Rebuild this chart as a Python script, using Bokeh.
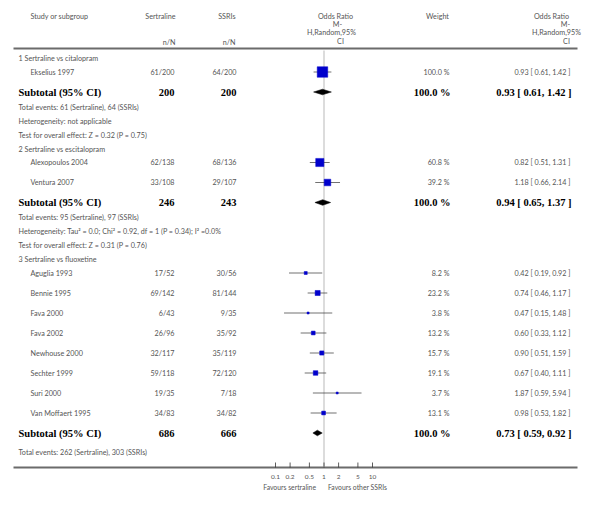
from bokeh.plotting import figure
from bokeh.models import Range1d, LogScale, ColumnDataSource
from bokeh.core.properties import value
from bokeh.embed import file_html
from bokeh.resources import INLINE

# ---------------- data ----------------
groups = ["1 Sertraline vs citalopram", "2 Sertraline vs escitalopram", "3 Sertraline vs fluoxetine"]
study_names = ["Ekselius 1997", "Alexopoulos 2004", "Ventura 2007", "Aguglia 1993", "Bennie 1995",
               "Fava 2000", "Fava 2002", "Newhouse 2000", "Sechter 1999", "Suri 2000", "Van Moffaert 1995"]
study_group = [0, 1, 1, 2, 2, 2, 2, 2, 2, 2, 2]
sert_nN = ["61/200", "62/138", "33/108", "17/52", "69/142", "6/43", "26/96", "32/117", "59/118", "19/35", "34/83"]
ssri_nN = ["64/200", "68/136", "29/107", "30/56", "81/144", "9/35", "35/92", "35/119", "72/120", "7/18", "34/82"]
weights = [100.0, 60.8, 39.2, 8.2, 23.2, 3.8, 13.2, 15.7, 19.1, 3.7, 13.1]
or_est = [0.93, 0.82, 1.18, 0.42, 0.74, 0.47, 0.60, 0.90, 0.67, 1.87, 0.98]
or_lo = [0.61, 0.51, 0.66, 0.19, 0.46, 0.15, 0.33, 0.51, 0.40, 0.59, 0.53]
or_hi = [1.42, 1.31, 2.14, 0.92, 1.17, 1.48, 1.12, 1.59, 1.11, 5.94, 1.82]

sub_n_sert = [200, 246, 686]
sub_n_ssri = [200, 243, 666]
sub_weight = [100.0, 100.0, 100.0]
sub_or = [0.93, 0.94, 0.73]
sub_lo = [0.61, 0.65, 0.59]
sub_hi = [1.42, 1.37, 0.92]
total_events = ["Total events: 61 (Sertraline), 64 (SSRIs)",
                "Total events: 95 (Sertraline), 97 (SSRIs)",
                "Total events: 262 (Sertraline), 303 (SSRIs)"]
heterogeneity = ["Heterogeneity: not applicable",
                 "Heterogeneity: Tau\u00b2 = 0.0; Chi\u00b2 = 0.92, df = 1 (P = 0.34); I\u00b2 =0.0%",
                 None]
overall_test = ["Test for overall effect: Z = 0.32 (P = 0.75)",
                "Test for overall effect: Z = 0.31 (P = 0.76)",
                None]
tick_values = [0.1, 0.2, 0.5, 1, 2, 5, 10]
tick_labels = ["0.1", "0.2", "0.5", "1", "2", "5", "10"]
favours_left = "Favours sertraline"
favours_right = "Favours other SSRIs"

# ---------------- figure ----------------
W, H = 585, 492
p = figure(width=W, height=H, output_backend="svg", toolbar_location=None,
           x_range=Range1d(0, W), y_range=Range1d(H, 0),
           x_axis_location=None, y_axis_location=None, min_border=0,
           outline_line_color=None)
p.grid.visible = False
p.background_fill_color = "white"

ONE_PX, DEC_PX = 323.5, 48.5
p.extra_x_ranges = {"or": Range1d(10 ** ((0 - ONE_PX) / DEC_PX), 10 ** ((W - ONE_PX) / DEC_PX))}
p.extra_x_scales = {"or": LogScale()}

REG_FONT = "Lato"
REG_SIZE = "7.2px"
REG_COL = "#555555"
BOLD_FONT = "Liberation Serif"
BOLD_SIZE = "10.5px"


def txt(x, y, s, align="left", bold=False, color=None, size=None, rng="default", xoff=0):
    p.text(x=[x], y=[y], text=[s], text_align=align, text_baseline="middle",
           text_font=value(BOLD_FONT if bold else REG_FONT),
           text_font_size=size or (BOLD_SIZE if bold else REG_SIZE),
           text_font_style="bold" if bold else "normal",
           text_color=color or ("black" if bold else REG_COL),
           x_range_name=rng, x_offset=xoff)


def fmt_ci(e, l, h):
    return f"{e:.2f} [ {l:.2f}, {h:.2f} ]"


# column anchors (screen px)
X_STUDY, X_GROUP, X_SERT, X_SSRI, X_W, X_CI = 30, 18, 174, 236, 449, 570

# header
txt(X_STUDY, 16, "Study or subgroup")
txt(X_SERT + 1, 16, "Sertraline", align="right")
txt(X_SSRI - 1, 16, "SSRIs", align="right")
txt(X_SERT + 1, 42, "n/N", align="right")
txt(X_SSRI - 1, 42, "n/N", align="right")
txt(437, 16, "Weight", align="center")
hdr_lines = ["Odds Ratio", "M-", "H,Random,95%", "CI"]
hdr_y = [16, 24, 32, 41]
for s, yy, xm, xr in zip(hdr_lines, hdr_y, [335, 337, 331, 340], [551, 565, 556, 566]):
    txt(xm, yy, s, align="center")
    txt(xr, yy, s, align="center")

p.segment(x0=[13], x1=[577], y0=[48], y1=[48], line_width=2, line_color="#6b6b6b")
p.segment(x0=[13], x1=[577], y0=[467], y1=[467], line_width=2, line_color="#6b6b6b")

# layout walk
rows_y_study = []
y = 58
sub_y = []
for g in range(3):
    txt(X_GROUP, y, groups[g])
    y += 13.5
    for i, sg in enumerate(study_group):
        if sg != g:
            continue
        rows_y_study.append(y)
        txt(X_STUDY, y, study_names[i])
        txt(X_SERT, y, sert_nN[i], align="right")
        txt(X_SSRI, y, ssri_nN[i], align="right")
        txt(X_W, y, f"{weights[i]:.1f} %", align="right")
        txt(X_CI, y, fmt_ci(or_est[i], or_lo[i], or_hi[i]), align="right")
        y += 20
    sub_y.append(y)
    txt(X_GROUP, y, "Subtotal (95% CI)", bold=True)
    txt(X_SERT, y, str(sub_n_sert[g]), align="right", bold=True)
    txt(X_SSRI, y, str(sub_n_ssri[g]), align="right", bold=True)
    txt(X_W + 1, y, f"{sub_weight[g]:.1f} %", align="right", bold=True)
    txt(X_CI + 1, y, fmt_ci(sub_or[g], sub_lo[g], sub_hi[g]), align="right", bold=True)
    y += 15 if g < 2 else 19
    for line in (total_events[g], heterogeneity[g], overall_test[g]):
        if line is None:
            continue
        txt(X_GROUP, y, line)
        y += 14

# null line
p.segment(x0=[1], x1=[1], y0=[50], y1=[466], x_range_name="or", line_color="#d4d4d4", line_width=1.6)

# study CIs and squares
src = ColumnDataSource(dict(y=rows_y_study, est=or_est, lo=or_lo, hi=or_hi,
                            size=[10.5 * (w / 100) ** 0.5 for w in weights]))
p.segment(x0="lo", x1="hi", y0="y", y1="y", source=src, x_range_name="or",
          line_color="#333333", line_width=0.7)
p.scatter(x="est", y="y", size="size", marker="square", source=src, x_range_name="or",
          fill_color="#0000cc", line_color="#0000cc", line_width=0.5)

# diamonds
xs = [[l, e, h, e] for e, l, h in zip(sub_or, sub_lo, sub_hi)]
ys = [[yy, yy - 2.8, yy, yy + 2.8] for yy in sub_y]
p.patches(xs=xs, ys=ys, x_range_name="or", fill_color="black", line_color="black", line_width=0.5)

# ticks
p.segment(x0=tick_values, x1=tick_values, y0=[462] * 7, y1=[467] * 7, x_range_name="or",
          line_color="#333333", line_width=0.8)
p.text(x=tick_values, y=[476.5] * 7, text=tick_labels, x_range_name="or", text_align="center",
       text_baseline="middle", text_font=value(REG_FONT), text_font_size="6.5px", text_color=REG_COL)
txt(1, 486, favours_left, align="right", rng="or", xoff=-8, size="6.8px")
txt(1, 486, favours_right, align="left", rng="or", xoff=4, size="6.8px")

open("out.html", "w").write(file_html(p, INLINE))
